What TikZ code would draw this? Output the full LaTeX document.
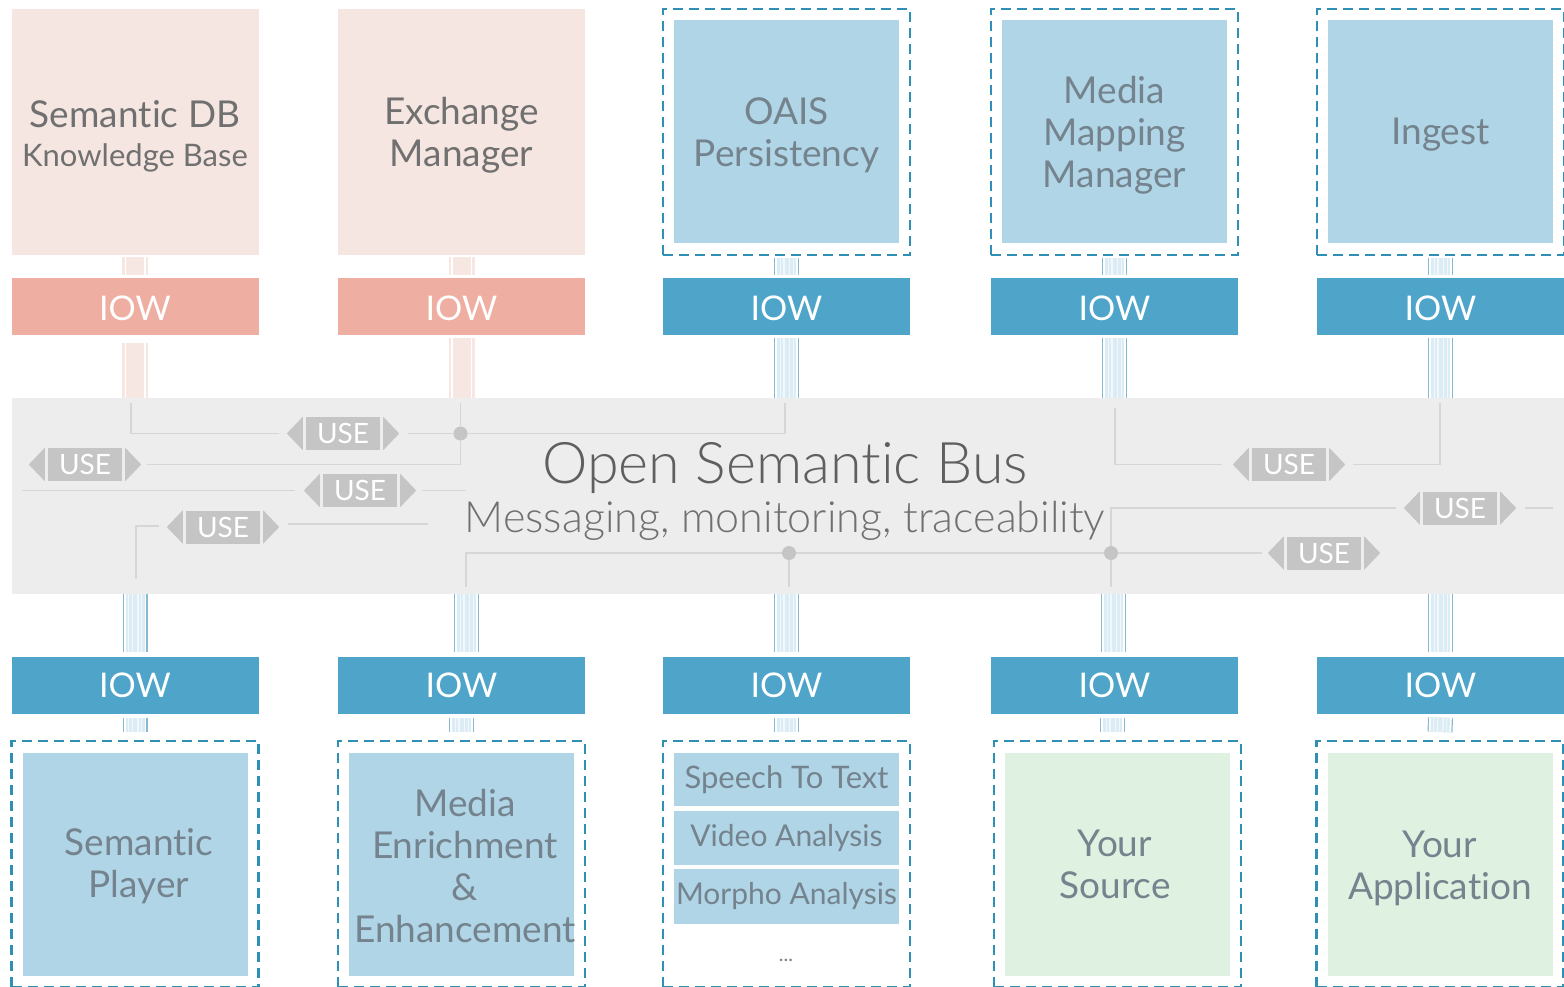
\documentclass[tikz,border=0pt]{standalone}
\usepackage{fontspec}
\setmainfont{Lato}[Ligatures=NoCommon]
\newfontfamily\lightf{Lato Light}[Ligatures=NoCommon]
\usetikzlibrary{calc}
\definecolor{pinkbox}{HTML}{F5E6E1}
\definecolor{pinkiow}{HTML}{EEAEA1}
\definecolor{bluebox}{HTML}{B0D5E6}
\definecolor{blueiow}{HTML}{4EA5C9}
\definecolor{dashc}{HTML}{2E90B5}
\definecolor{greenbox}{HTML}{DFF1E0}
\definecolor{busc}{HTML}{EDEDED}
\definecolor{tagc}{HTML}{C5C5C5}
\definecolor{linec}{HTML}{D6D6D6}
\definecolor{txt}{HTML}{707070}
\definecolor{txtb}{HTML}{74838D}
\definecolor{bandedge}{HTML}{86BAD2}
\definecolor{bandin}{HTML}{DCECF4}
\definecolor{bandpink}{HTML}{F6E7E2}
\newcommand\fsz[2]{\fontsize{#1}{#2}\selectfont}
\tikzset{
  x=1pt,y=-1pt,
  box/.style={inner sep=0pt,minimum width=#1,align=center},
  pinkb/.style={box=247,fill=pinkbox,minimum height=246},
  blueb/.style={box=225,fill=bluebox,minimum height=223},
  greenb/.style={box=225,fill=greenbox,minimum height=223},
  dashb/.style={draw=dashc,line width=2.2pt,dash pattern=on 10pt off 6pt,inner sep=0pt,minimum width=247,minimum height=246},
  iowp/.style={box=247,fill=pinkiow,minimum height=57,text=white,font=\fsz{34}{40}},
  iowb/.style={box=247,fill=blueiow,minimum height=57,text=white,font=\fsz{34}{40}},
  item/.style={box=225,fill=bluebox,text=txtb,font=\fsz{30}{36}},
  lbl/.style={inner sep=0pt,align=center,text=txtb,font=\fsz{37}{42}},
  lblp/.style={lbl,text=txt},
  tag/.style={fill=tagc,text=white,inner sep=0pt,minimum width=74,minimum height=33,font=\fsz{28}{33}},
  wire/.style={draw=linec,line width=1.8pt,line join=miter},
  jun/.style={circle,fill=tagc,inner sep=0pt,minimum size=14},
}
\newcommand\blueband[2]{%
  \draw[bandedge,line width=25] #1 -- #2;
  \draw[white,line width=22.6] #1 -- #2;
  \draw[bandin,line width=19] #1 -- #2;
  \draw[white!60!bandin,line width=14] #1 -- #2;
  \draw[bandin,line width=12] #1 -- #2;
  \draw[white!60!bandin,line width=7] #1 -- #2;
  \draw[bandin,line width=4] #1 -- #2;}
\newcommand\pinkband[2]{%
  \draw[bandpink,line width=26] #1 -- #2;
  \draw[white,line width=21] #1 -- #2;
  \draw[bandpink,line width=18] #1 -- #2;}
\newcommand\usetag[3]{%
  \node[tag] (#1) at (#2,#3) {USE};
  \fill[tagc] ([xshift=-3]#1.north west) -- ([xshift=-3]#1.south west) -- ([xshift=-19]#1.west) -- cycle;
  \fill[tagc] ([xshift=3]#1.north east) -- ([xshift=3]#1.south east) -- ([xshift=19]#1.east) -- cycle;}
\newcommand\iowT{\smash{\raisebox{-13.5pt}{IOW}}}
\newcommand\iowB{\smash{\raisebox{-12pt}{IOW}}}
\begin{document}
\begin{tikzpicture}
\useasboundingbox (0,0) rectangle (1564,987);
\clip (0,0) rectangle (1564,987);
% top row
\node[pinkb] (semdb) at (135,132) {};
\node[lblp] (semdbt) at (135,136) {Semantic DB\\[-3pt]{\fsz{31}{36}Knowledge Base}};
\node[pinkb] (exch) at (461.5,132) {};
\node[lblp] (excht) at (461.5,135) {Exchange\\Manager};
\node[dashb] (oaisd) at (786.5,132) {};
\node[blueb] (oais) at (786.5,132) {};
\node[lbl] (oaist) at (786.5,135) {OAIS\\Persistency};
\node[dashb] (mediad) at (1114.5,132) {};
\node[blueb] (media) at (1114.5,132) {};
\node[lbl] (mediat) at (1114.5,135) {Media\\Mapping\\Manager};
\node[dashb] (ingd) at (1440.5,132) {};
\node[blueb] (ing) at (1440.5,132) {};
\node[lbl] (ingt) at (1440.5,135) {Ingest};
% top IOW
\node[iowp] (i1) at (135,306.5) {\iowT};
\node[iowp] (i2) at (461.5,306.5) {\iowT};
\node[iowb] (i3) at (786.5,306.5) {\iowT};
\node[iowb] (i4) at (1114.5,306.5) {\iowT};
\node[iowb] (i5) at (1440.5,306.5) {\iowT};
% bus
\node[fill=busc,inner sep=0pt,minimum width=1552,minimum height=196] (bus) at (788,496) {};
% bottom IOW
\node[iowb] (j1) at (135,685) {\iowB};
\node[iowb] (j2) at (461.5,685) {\iowB};
\node[iowb] (j3) at (786.5,685) {\iowB};
\node[iowb] (j4) at (1114.5,685) {\iowB};
\node[iowb] (j5) at (1440.5,685) {\iowB};
% bottom row
\node[dashb] (playd) at (135,864) {};
\node[blueb] (play) at (135,864) {};
\node[lbl] (playt) at (139,866) {Semantic\\Player};
\node[dashb] (enrd) at (461.5,864) {};
\node[blueb] (enr) at (461.5,864) {};
\node[lbl] (enrt) at (465,866) {Media\\Enrichment\\\&\\Enhancement};
\node[dashb] (anad) at (786.5,864) {};
\node[item,minimum height=53,font=\fsz{31}{36}] (a1) at (786.5,779.5) {Speech To Text};
\node[item,minimum height=54] (a2) at (786.5,838) {Video Analysis};
\node[item,minimum height=55] (a3) at (786.5,896.5) {Morpho Analysis};
\node[inner sep=0pt,text=txtb,font=\fsz{20}{24}] (a4) at (786,960) {...};
\node[dashb] (srcd) at (1117.5,864) {};
\node[greenb] (src) at (1117.5,864) {};
\node[lbl] (srct) at (1115,864) {Your\\Source};
\node[dashb] (appd) at (1440,864) {};
\node[greenb] (app) at (1440.5,864) {};
\node[lbl] (appt) at (1440,868) {Your\\Application};
% bands
\pinkband{([yshift=-2]semdb.south)}{([yshift=3]i1.north)}
\pinkband{([yshift=-2]exch.south)}{([yshift=3]i2.north)}
\blueband{([yshift=-2]oaisd.south)}{([yshift=3]i3.north)}
\blueband{([yshift=-2]mediad.south)}{([yshift=3]i4.north)}
\blueband{([yshift=-2]ingd.south)}{([yshift=3]i5.north)}
\pinkband{([yshift=-8]i1.south)}{(i1.south |- bus.north)}
\pinkband{([yshift=-3]i2.south)}{(i2.south |- bus.north)}
\blueband{([yshift=-3]i3.south)}{(i3.south |- bus.north)}
\blueband{([yshift=-3]i4.south)}{(i4.south |- bus.north)}
\blueband{([yshift=-3]i5.south)}{(i5.south |- bus.north)}
\blueband{(bus.south -| j1.north)}{([yshift=4]j1.north)}
\blueband{([xshift=5]bus.south -| j2.north)}{([xshift=5,yshift=4]j2.north)}
\blueband{(bus.south -| j3.north)}{([yshift=4]j3.north)}
\blueband{([xshift=-1]bus.south -| j4.north)}{([xshift=-1,yshift=4]j4.north)}
\blueband{(bus.south -| j5.north)}{([yshift=4]j5.north)}
\blueband{([yshift=-4]j1.south)}{([yshift=8]playd.north)}
\blueband{([yshift=-4]j2.south)}{([yshift=8]enrd.north)}
\blueband{([yshift=-4]j3.south)}{([yshift=8]anad.north)}
\blueband{([xshift=-2,yshift=-4]j4.south)}{([xshift=-2,yshift=8]j4.south |- srcd.north)}
\blueband{([yshift=-4]j5.south)}{([yshift=8]appd.north)}
% bus title
\node[inner sep=0pt,text=txt!85!black,font=\lightf\fsz{57.4}{60}] (title) at (785,468) {Open Semantic Bus};
\node[inner sep=0pt,text=txt,font=\lightf\fsz{43}{48}] (sub) at (785,521) {Messaging, monitoring, traceability};
% tags
\usetag{u1}{343}{433.5}
\usetag{u2}{85}{464.5}
\usetag{u3}{360}{490.5}
\usetag{u4}{223}{527}
\usetag{u5}{1289}{464.5}
\usetag{u6}{1460}{508}
\usetag{u7}{1324}{553}
% junctions and free ends
\node[jun] (d1) at (460.5,433.5) {};
\node[jun] (d2) at (789,553) {};
\node[jun] (d3) at (1111,553) {};
\coordinate (e1) at (131,403);
\coordinate (e2) at (460.5,403);
\coordinate (e3) at (785,403);
\coordinate (e4) at (22,490.5);
\coordinate (e5) at (466,490.5);
\coordinate (e6) at (136,579);
\coordinate (e7) at (428,524);
\coordinate (e8) at (466,587);
\coordinate (e9) at (789,587);
\coordinate (e10) at (1111,587);
\coordinate (e11) at (1553,508);
\coordinate (e12) at (1115,408);
\coordinate (e13) at (1440,403);
% wires
\draw[wire] (e1) |- ([xshift=-27]u1.west);
\draw[wire] ([xshift=28]u1.east) -- (d1) -- (e3 |- d1) -- (e3);
\draw[wire] (e2) -- (d1) -- (d1 |- u2.east) -- ([xshift=25]u2.east);
\draw[wire] (e4) -- ([xshift=-28]u3.west);
\draw[wire] ([xshift=25]u3.east) -- (e5);
\draw[wire] (e6) |- ([xshift=-27,yshift=1]u4.west);
\draw[wire] ([xshift=28,yshift=3]u4.east) -- (e7);
\draw[wire] (e8) |- (d2) -- (d3) -- ([xshift=-25]u7.west);
\draw[wire] (e9) -- (d2);
\draw[wire] (e10) -- (d3) -- (d3 |- u6.west) -- ([xshift=-27]u6.west);
\draw[wire] ([xshift=28]u6.east) -- (e11);
\draw[wire] (e12) |- ([xshift=-30]u5.west);
\draw[wire] ([xshift=27]u5.east) -- (e13 |- u5.east) -- (e13);
\end{tikzpicture}
\end{document}
